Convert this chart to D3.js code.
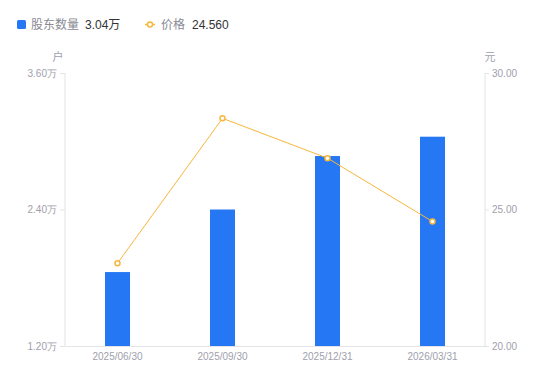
<!DOCTYPE html>
<html>
<head>
<meta charset="utf-8">
<script src="https://cdn.jsdelivr.net/npm/d3@7"></script>
<style>
  body { margin: 0; background: #fff; }
  svg { font-family: "Liberation Sans", "Noto Sans CJK SC", sans-serif; }
</style>
</head>
<body>
<div id="chart"></div>
<script>
// data
const dates = ["2025/06/30", "2025/09/30", "2025/12/31", "2026/03/31"];
const holders = [1.85, 2.40, 2.87, 3.04];   // 万户
const prices = [23.03, 28.34, 26.88, 24.56]; // 元
const leftTicks = [1.2, 2.4, 3.6];
const rightTicks = [20, 25, 30];

const width = 550, height = 381;
const marginTop = 73, marginBottom = 35, marginLeft = 65, marginRight = 65;

const svg = d3.select("#chart").append("svg")
    .attr("width", width)
    .attr("height", height);

const x = d3.scaleBand()
    .domain(dates)
    .range([marginLeft, width - marginRight]);

const yL = d3.scaleLinear().domain([1.2, 3.6]).range([height - marginBottom, marginTop]);
const yR = d3.scaleLinear().domain([20, 30]).range([height - marginBottom, marginTop]);

const axisColor = "#e3e3e8";
const labelColor = "#a0a0ac";

// left axis
const gl = svg.append("g")
    .attr("transform", `translate(${marginLeft},0)`)
    .call(d3.axisLeft(yL).tickValues(leftTicks).tickSize(5).tickPadding(3)
      .tickFormat(d => d.toFixed(2) + "万"));
gl.select(".domain").attr("stroke", axisColor).attr("d", `M0,${marginTop}V${height - marginBottom}`);
gl.selectAll(".tick line").attr("stroke", axisColor);
gl.selectAll(".tick text").attr("fill", labelColor).style("font-size", "10px");

// right axis
const gr = svg.append("g")
    .attr("transform", `translate(${width - marginRight},0)`)
    .call(d3.axisRight(yR).tickValues(rightTicks).tickSize(4).tickPadding(3)
      .tickFormat(d => d.toFixed(2)));
gr.select(".domain").attr("stroke", axisColor).attr("d", `M0,${marginTop}V${height - marginBottom}`);
gr.selectAll(".tick line").attr("stroke", axisColor);
gr.selectAll(".tick text").attr("fill", labelColor).style("font-size", "10px");

// bottom axis
const gb = svg.append("g")
    .attr("transform", `translate(0,${height - marginBottom})`)
    .call(d3.axisBottom(x).tickSize(0).tickPadding(7));
gb.select(".domain").attr("stroke", axisColor);
gb.selectAll(".tick text").attr("fill", labelColor).style("font-size", "10px");

// unit labels
svg.append("text").attr("x", marginLeft - 7).attr("y", 61).attr("text-anchor", "middle")
    .attr("fill", labelColor).style("font-size", "11px").text("户");
svg.append("text").attr("x", width - marginRight + 5).attr("y", 61).attr("text-anchor", "middle")
    .attr("fill", labelColor).style("font-size", "11px").text("元");

// bars
const barW = 25;
svg.append("g").selectAll("rect")
  .data(dates)
  .join("rect")
    .attr("x", d => x(d) + x.bandwidth() / 2 - barW / 2)
    .attr("y", (d, i) => yL(holders[i]))
    .attr("width", barW)
    .attr("height", (d, i) => yL(1.2) - yL(holders[i]))
    .attr("fill", "#2677f4");

// price line
const lineColor = "#f7b73c";
const line = d3.line()
    .x(d => x(d[0]) + x.bandwidth() / 2)
    .y(d => yR(d[1]));
const pts = dates.map((d, i) => [d, prices[i]]);
svg.append("path")
    .datum(pts)
    .attr("d", line)
    .attr("fill", "none")
    .attr("stroke", lineColor)
    .attr("stroke-width", 1);
svg.append("g").selectAll("circle")
  .data(pts)
  .join("circle")
    .attr("cx", d => x(d[0]) + x.bandwidth() / 2)
    .attr("cy", d => yR(d[1]))
    .attr("r", 2.5)
    .attr("fill", "#fff")
    .attr("stroke", lineColor)
    .attr("stroke-width", 1.5);

// legend
const lg = svg.append("g").style("font-size", "12px");
lg.append("rect").attr("x", 17).attr("y", 20).attr("width", 9).attr("height", 9)
    .attr("rx", 1.5).attr("fill", "#2677f4");
lg.append("text").attr("x", 31).attr("y", 29).attr("fill", "#8a8a94").text("股东数量");
lg.append("text").attr("x", 85).attr("y", 29).attr("fill", "#333").text("3.04万");
lg.append("line").attr("x1", 145).attr("x2", 155).attr("y1", 24.5).attr("y2", 24.5)
    .attr("stroke", lineColor).attr("stroke-width", 1.5);
lg.append("circle").attr("cx", 150).attr("cy", 24.5).attr("r", 2.5)
    .attr("fill", "#fff").attr("stroke", lineColor).attr("stroke-width", 1.5);
lg.append("text").attr("x", 161).attr("y", 29).attr("fill", "#8a8a94").text("价格");
lg.append("text").attr("x", 192).attr("y", 29).attr("fill", "#333").text("24.560");
</script>
</body>
</html>
